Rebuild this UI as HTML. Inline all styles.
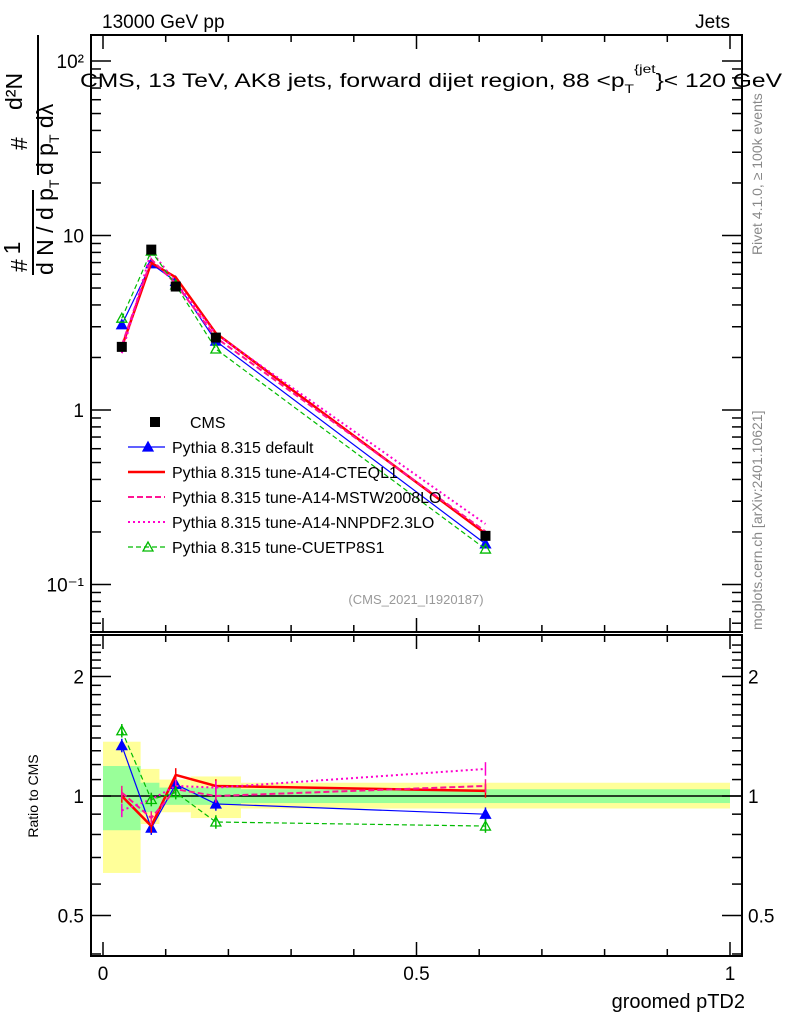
<!DOCTYPE html>
<html><head><meta charset="utf-8"><style>
body{margin:0;background:#fff}
svg{display:block;font-family:"Liberation Sans",sans-serif}
</style></head><body>
<svg id="c" width="786" height="1024" viewBox="0 0 786 1024" xmlns="http://www.w3.org/2000/svg">
<g id="bands"></g>
<g id="marks"></g>
<g id="axes"></g>
<text x="102" y="28" font-size="19">13000 GeV pp</text>
<text x="730" y="28" font-size="19" text-anchor="end">Jets</text>
<text x="80" y="87" font-size="19" textLength="702" lengthAdjust="spacingAndGlyphs">CMS, 13 TeV, AK8 jets, forward dijet region, 88 &lt;p<tspan font-size="12" dy="6">T</tspan><tspan font-size="12" dy="-20">{jet</tspan><tspan dy="14">}&lt; 120 GeV</tspan></text>
<text x="416" y="604" font-size="13" fill="#999" text-anchor="middle">(CMS_2021_I1920187)</text>
<text transform="translate(762,255) rotate(-90)" font-size="14" fill="#888">Rivet 4.1.0, ≥ 100k events</text>
<text transform="translate(762,630) rotate(-90)" font-size="14" fill="#888">mcplots.cern.ch [arXiv:2401.10621]</text>
<g font-size="23">
<text transform="translate(27,272) rotate(-90)">#</text>
<text transform="translate(20,248) rotate(-90)" text-anchor="middle">1</text>
<line x1="33" y1="190" x2="33" y2="275" stroke="#000" stroke-width="2"/>
<text transform="translate(53,275) rotate(-90)">d N / d p<tspan font-size="14" dy="6">T</tspan></text>
<text transform="translate(27,150) rotate(-90)">#</text>
<line x1="38" y1="35" x2="38" y2="175" stroke="#000" stroke-width="2"/>
<text transform="translate(22,110) rotate(-90)">d²N</text>
<text transform="translate(53,175) rotate(-90)">d p<tspan font-size="14" dy="6">T</tspan><tspan dy="-6"> dλ</tspan></text>
</g>
<text transform="translate(38,796) rotate(-90)" font-size="14" text-anchor="middle">Ratio to CMS</text>
<text x="745" y="1008" font-size="20" text-anchor="end">groomed pTD2</text>
<g id="legend"></g>
</svg>
<script>
const xCenters=[0.03,0.077,0.116,0.18,0.61];
const binEdges=[0,0.06,0.09,0.14,0.22,1.0];
const cmsValues=[2.3,8.3,5.1,2.6,0.19];
const yellowHi=[1.37,1.17,1.10,1.12,1.08];
const yellowLo=[0.64,0.85,0.91,0.88,0.93];
const greenHi=[1.19,1.08,1.05,1.05,1.04];
const greenLo=[0.82,0.91,0.95,0.95,0.96];
const ratioDefault=[1.34,0.83,1.07,0.955,0.90];
const ratioCTEQ=[1.0,0.84,1.13,1.06,1.03];
const ratioMSTW=[1.02,0.88,1.04,1.0,1.06];
const ratioNNPDF=[0.92,0.98,1.06,1.05,1.17];
const ratioCUETP=[1.46,0.98,1.02,0.86,0.84];
const mainTicks=["10⁻¹","1","10","10²"];
const ratioTicks=["0.5","1","2"];
const xTicks=["0","0.5","1"];

const NS="http://www.w3.org/2000/svg";
const X=v=>103+627*v;
const Y=v=>410-174.5*Math.log10(v);
const R=v=>796-397*Math.log10(v);
const L=91,RT=742,T1=35,B1=632,T2=635,B2=956;
function mk(p,tag,a){const e=document.createElementNS(NS,tag);for(const k in a)e.setAttribute(k,a[k]);p.appendChild(e);return e;}
const bands=document.getElementById('bands'),marks=document.getElementById('marks'),axes=document.getElementById('axes'),leg=document.getElementById('legend');
for(let i=0;i<5;i++){
 const y=mk(bands,'rect',{x:X(binEdges[i]),y:R(yellowHi[i]),width:X(binEdges[i+1])-X(binEdges[i]),height:R(yellowLo[i])-R(yellowHi[i]),fill:'#ffff99'});
 
 const g=mk(bands,'rect',{x:X(binEdges[i]),y:R(greenHi[i]),width:X(binEdges[i+1])-X(binEdges[i]),height:R(greenLo[i])-R(greenHi[i]),fill:'#99ff99'});
 
}
const ref=mk(bands,'line',{x1:L,x2:RT,y1:R(1),y2:R(1),stroke:'#000','stroke-width':1.5});


const series=[
 {name:'Pythia 8.315 default',r:ratioDefault,c:'#0000ff',w:1.2,d:'',m:'tri'},
 {name:'Pythia 8.315 tune-A14-CTEQL1',r:ratioCTEQ,c:'#ff0000',w:2.5,d:'',m:'none'},
 {name:'Pythia 8.315 tune-A14-MSTW2008LO',r:ratioMSTW,c:'#ff1493',w:2,d:'6,3',m:'none'},
 {name:'Pythia 8.315 tune-A14-NNPDF2.3LO',r:ratioNNPDF,c:'#ff00cc',w:2,d:'2,3',m:'none'},
 {name:'Pythia 8.315 tune-CUETP8S1',r:ratioCUETP,c:'#00bb00',w:1.2,d:'5,3',m:'otri'}];
function tri(p,x,y,c,open){return mk(p,'path',{d:`M${x-5},${y+4}L${x+5},${y+4}L${x},${y-5}Z`,fill:open?'none':c,stroke:c,'stroke-width':1.3});}
series.forEach((s,si)=>{
 const g=mk(marks,'g',{});
 
 const main=s.r.map((r,i)=>X(xCenters[i])+','+Y(r*cmsValues[i])).join(' ');
 const rat=s.r.map((r,i)=>X(xCenters[i])+','+R(r)).join(' ');
 const pl=mk(g,'polyline',{points:main,fill:'none',stroke:s.c,'stroke-width':s.w,'stroke-dasharray':s.d});
 
 const pr=mk(g,'polyline',{points:rat,fill:'none',stroke:s.c,'stroke-width':s.w,'stroke-dasharray':s.d});
 
 s.r.forEach((r,i)=>{
  const x=X(xCenters[i]);
  mk(g,'line',{x1:x,x2:x,y1:R(r*1.04),y2:R(r/1.04),stroke:s.c,'stroke-width':1.5});
  if(s.m!=='none'){const t1=tri(g,x,Y(r*cmsValues[i]),s.c,s.m==='otri');
   const t2=tri(g,x,R(r),s.c,s.m==='otri');}
 });
});
cmsValues.forEach((v,i)=>{const r=mk(marks,'rect',{x:X(xCenters[i])-5,y:Y(v)-5,width:10,height:10,fill:'#000'});
 });
// legend
const ly=[422,447,472,497,522,547];
const cm=mk(leg,'rect',{x:150,y:ly[0]-5,width:10,height:10,fill:'#000'});

const ct=mk(leg,'text',{x:190,y:ly[0]+6,'font-size':16});ct.textContent='CMS';

series.forEach((s,i)=>{const y=ly[i+1];
 mk(leg,'line',{x1:128,x2:165,y1:y,y2:y,stroke:s.c,'stroke-width':s.w,'stroke-dasharray':s.d});
 if(s.m!=='none')tri(leg,148,y,s.c,s.m==='otri');
 const t=mk(leg,'text',{x:172,y:y+6,'font-size':16});t.textContent=s.name;
 });
// frames
[[T1,B1],[T2,B2]].forEach(([t,b])=>mk(axes,'rect',{x:L,y:t,width:RT-L,height:b-t,fill:'none',stroke:'#000','stroke-width':2}));
// x ticks
for(let k=0;k<=10;k++){const x=X(k/10),big=k%5===0?14:7;
 [[T1,1],[B1,-1],[T2,1],[B2,-1]].forEach(([y,d])=>mk(axes,'line',{x1:x,x2:x,y1:y,y2:y+d*big,stroke:'#000','stroke-width':1.5}));}
xTicks.forEach((t,i)=>{const e=mk(axes,'text',{x:X(i*0.5),y:980,'font-size':19,'text-anchor':'middle'});e.textContent=t;
 });
// main y ticks
for(let d=-2;d<=2;d++)for(let m=1;m<10;m++){const v=m*Math.pow(10,d),y=Y(v);if(y<T1||y>B1)continue;const len=m===1?20:10;
 mk(axes,'line',{x1:L,x2:L+len,y1:y,y2:y,stroke:'#000','stroke-width':1.5});mk(axes,'line',{x1:RT,x2:RT-len,y1:y,y2:y,stroke:'#000','stroke-width':1.5});}
mainTicks.forEach((t,i)=>{const e=mk(axes,'text',{x:84,y:Y(Math.pow(10,i-1))+7,'font-size':19,'text-anchor':'end'});e.textContent=t;
 });
// ratio y ticks
for(let v=0.4;v<=2.45;v+=0.1){const y=R(v);if(y<T2||y>B2)continue;const big=[0.5,1,2].some(q=>Math.abs(q-v)<1e-6)?20:10;
 mk(axes,'line',{x1:L,x2:L+big,y1:y,y2:y,stroke:'#000','stroke-width':1.5});mk(axes,'line',{x1:RT,x2:RT-big,y1:y,y2:y,stroke:'#000','stroke-width':1.5});}
ratioTicks.forEach(t=>{const v=parseFloat(t);
 const e=mk(axes,'text',{x:84,y:R(v)+7,'font-size':19,'text-anchor':'end'});e.textContent=t;
 
 const e2=mk(axes,'text',{x:748,y:R(v)+7,'font-size':19});e2.textContent=t;
 });
</script>
</body></html>
